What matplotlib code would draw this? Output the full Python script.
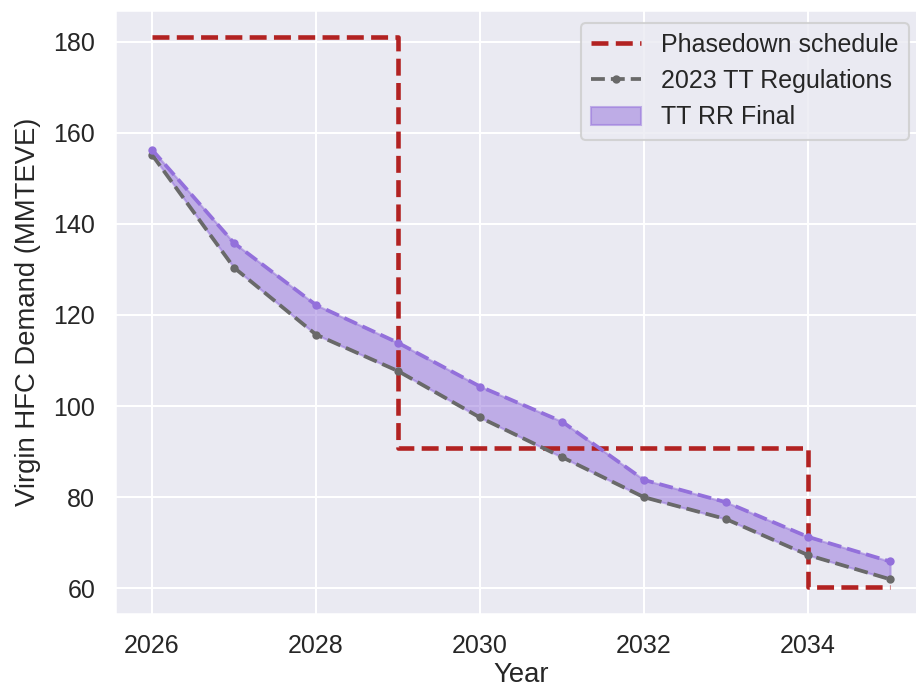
import matplotlib
matplotlib.use("Agg")
import matplotlib.pyplot as plt
import seaborn as sns

sns.set_theme()
plt.rcParams['font.family'] = ['Liberation Sans', 'DejaVu Sans']
plt.rcParams['xtick.labelsize'] = 12
plt.rcParams['ytick.labelsize'] = 12
plt.rcParams['axes.labelsize'] = 13.2
plt.rcParams['legend.fontsize'] = 12

# data
years = [2026, 2027, 2028, 2029, 2030, 2031, 2032, 2033, 2034, 2035]
tt_2023 = [155.2, 130.4, 115.7, 107.7, 97.5, 88.8, 80.0, 75.2, 67.3, 62.0]
tt_rr_final = [156.3, 135.8, 122.2, 113.9, 104.3, 96.6, 83.8, 78.9, 71.3, 65.9]

phase_years = [2026, 2029, 2029, 2034, 2034, 2035]
phase_vals = [180.9, 180.9, 90.8, 90.8, 60.4, 60.4]

fig, ax = plt.subplots(figsize=(916 / 150, 688 / 150), dpi=150)
# axes runs a little past the right edge, like the cropped original
fig.subplots_adjust(left=115 / 916, right=927 / 916, top=1 - 10 / 688, bottom=1 - 614 / 688)

ax.plot(phase_years, phase_vals, color="firebrick", ls="--", lw=2.2,
        label="Phasedown schedule")
ax.plot(years, tt_2023, color="dimgray", ls="--", marker=".", lw=1.8,
        label="2023 TT Regulations")
ax.plot(years, tt_rr_final, color="mediumpurple", ls="--", marker=".", lw=1.8)
ax.fill_between(years, tt_2023, tt_rr_final, color="mediumpurple", alpha=0.5,
                label="TT RR Final")

ax.set_xticks([2026, 2028, 2030, 2032, 2034])
ax.set_xlabel("Year", labelpad=2)
ax.set_ylabel("Virgin HFC Demand (MMTEVE)", labelpad=6)
ax.legend(loc="upper right", bbox_to_anchor=(0.993, 1.0), numpoints=1)

fig.savefig("out.png", dpi=150)
